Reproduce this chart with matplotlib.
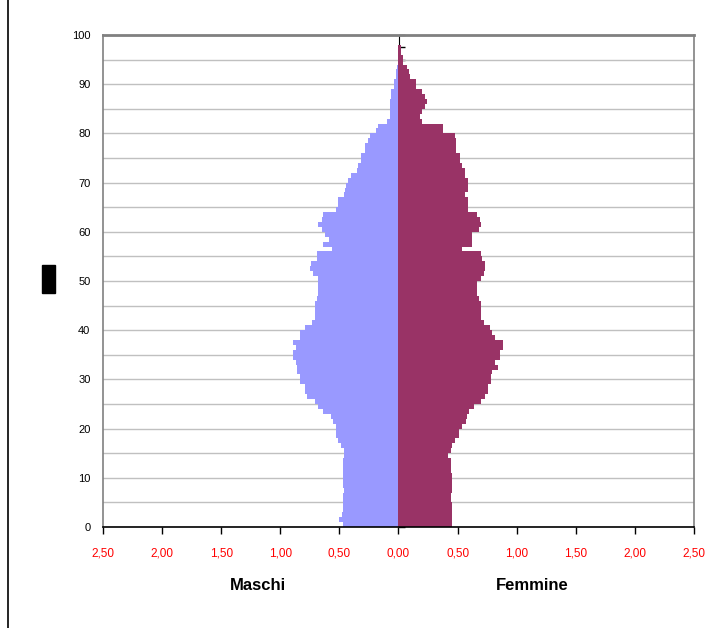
import matplotlib
matplotlib.use("Agg")
import matplotlib.pyplot as plt
import numpy as np
from matplotlib.patches import Rectangle
from matplotlib.lines import Line2D

plt.rcParams['font.family'] = ['Liberation Sans', 'DejaVu Sans']

# eta' 0..99, percentuale sul totale
eta = np.arange(0, 100)

maschi = [
    0.47, 0.50, 0.48, 0.47, 0.47, 0.47, 0.47, 0.46, 0.47, 0.47,
    0.47, 0.47, 0.47, 0.47, 0.46, 0.46, 0.49, 0.51, 0.53, 0.53,
    0.53, 0.55, 0.575, 0.635, 0.68, 0.71, 0.77, 0.795, 0.795, 0.83,
    0.83, 0.855, 0.855, 0.87, 0.89, 0.89, 0.87, 0.89, 0.83, 0.83,
    0.79, 0.735, 0.71, 0.71, 0.71, 0.71, 0.69, 0.68, 0.68, 0.68,
    0.68, 0.72, 0.75, 0.74, 0.69, 0.69, 0.56, 0.635, 0.59, 0.62,
    0.65, 0.68, 0.65, 0.635, 0.53, 0.515, 0.515, 0.465, 0.455, 0.44,
    0.43, 0.40, 0.355, 0.34, 0.32, 0.32, 0.28, 0.28, 0.26, 0.24,
    0.19, 0.17, 0.10, 0.076, 0.076, 0.076, 0.076, 0.06, 0.06, 0.042,
    0.042, 0.017, 0.017, 0.01, 0.005, 0.0, 0.0, 0.0, 0.0, 0.0,
]

femmine = [
    0.455, 0.455, 0.455, 0.455, 0.455, 0.44, 0.44, 0.455, 0.455, 0.455,
    0.455, 0.44, 0.44, 0.44, 0.42, 0.44, 0.455, 0.48, 0.51, 0.51,
    0.54, 0.57, 0.58, 0.60, 0.64, 0.70, 0.735, 0.76, 0.76, 0.78,
    0.78, 0.795, 0.84, 0.82, 0.855, 0.855, 0.88, 0.88, 0.82, 0.795,
    0.77, 0.72, 0.70, 0.70, 0.70, 0.70, 0.68, 0.66, 0.66, 0.66,
    0.70, 0.72, 0.735, 0.735, 0.71, 0.70, 0.54, 0.62, 0.62, 0.62,
    0.68, 0.70, 0.69, 0.66, 0.585, 0.585, 0.585, 0.56, 0.585, 0.585,
    0.585, 0.56, 0.56, 0.54, 0.52, 0.52, 0.485, 0.485, 0.485, 0.48,
    0.38, 0.38, 0.20, 0.186, 0.20, 0.22, 0.245, 0.22, 0.20, 0.144,
    0.144, 0.10, 0.085, 0.068, 0.042, 0.042, 0.025, 0.025, 0.0, 0.0,
]

xticks = np.arange(-2.5, 2.51, 0.5)
yticks = np.arange(0, 101, 10)

fig = plt.figure(figsize=(7.23, 6.28), dpi=100)
ax = fig.add_axes([103/723, 1 - 527/628, 591/723, 492/628])

ax.barh(eta, -np.array(maschi), height=1.0, align='edge', color='#9999FF', zorder=2)
ax.barh(eta, femmine, height=1.0, align='edge', color='#993366', zorder=2)

ax.set_xlim(-2.5, 2.5)
ax.set_ylim(0, 100)

# griglia ogni 5 anni
ax.set_yticks(yticks)
ax.set_yticks(np.arange(5, 100, 10), minor=True)
ax.yaxis.grid(True, which='both', color='#C0C0C0', lw=1, zorder=0)
ax.tick_params(axis='y', which='both', length=0, pad=9, labelsize=8)

ax.set_xticks(xticks)
ax.set_xticklabels([f"{abs(v):.2f}".replace('.', ',') for v in xticks],
                   color='#FF0000', fontsize=8.5)
ax.tick_params(axis='x', direction='out', length=5, width=1, pad=10, color='black')

for s in ['top', 'left', 'right']:
    ax.spines[s].set_color('#808080')
    ax.spines[s].set_linewidth(1.2)
ax.spines['top'].set_linewidth(2)
ax.spines['bottom'].set_color('black')
ax.spines['bottom'].set_linewidth(1.2)

# asse centrale con tacche
sec = ax.secondary_yaxis(0.5)
sec.set_yticks(np.arange(0, 101, 2.5))
sec.set_yticklabels([])
sec.tick_params(direction='out', length=4, width=1, color='black')
sec.spines['left'].set_color('black')
sec.spines['left'].set_linewidth(1.2)

fig.text(258/723, 1 - 585/628, 'Maschi', ha='center', va='center',
         fontsize=12, fontweight='bold')
fig.text(532/723, 1 - 585/628, 'Femmine', ha='center', va='center',
         fontsize=12, fontweight='bold')

fig.add_artist(Line2D([8/723, 8/723], [0, 1], transform=fig.transFigure,
                      color='black', lw=1.2))
fig.add_artist(Rectangle((42/723, 1 - 293/628), 13/723, 28/628,
                         transform=fig.transFigure, color='black'))

fig.savefig('out.png', dpi=100)
